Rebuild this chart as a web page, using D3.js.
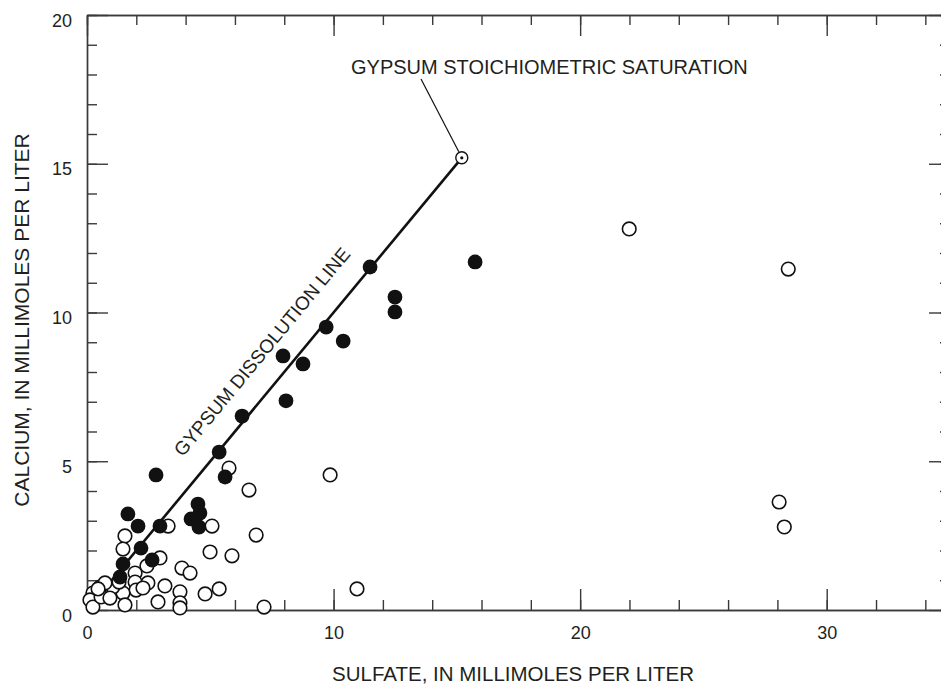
<!DOCTYPE html>
<html>
<head>
<meta charset="utf-8">
<script src="https://cdn.jsdelivr.net/npm/d3@7"></script>
<style>
  body { margin: 0; background: #fff; }
  svg { display: block; font-family: "Liberation Sans", Arial, Helvetica, sans-serif; }
  text { fill: #231f20; }
</style>
</head>
<body>
<script>
// samples plotting on / near the gypsum line (filled)
var filledSulfate = [11.48, 15.74, 12.49, 12.49, 10.39, 9.70, 8.76, 7.95, 8.07, 6.29, 5.36, 5.60,
                     2.80, 4.50, 4.58, 4.22, 4.54, 2.96, 1.66, 2.07, 2.19, 2.64, 1.46, 1.34];
var filledCalcium = [11.53, 11.70, 10.52, 10.02, 9.04, 9.51, 8.27, 8.54, 7.03, 6.52, 5.31, 4.47,
                     4.54, 3.56, 3.26, 3.06, 2.79, 2.82, 3.23, 2.82, 2.08, 1.68, 1.55, 1.11];

// other samples (open)
var openSulfate = [21.99, 28.44, 28.07, 28.28, 9.86, 5.76, 6.57, 6.86, 5.07, 3.29, 4.99, 5.88,
                   2.96, 3.85, 4.18, 3.16, 3.77, 4.79, 5.36, 2.88, 3.77, 3.77, 7.18, 10.95,
                   1.54, 1.46, 2.43, 1.95, 1.95, 1.99, 2.47, 2.27, 1.46, 0.89, 0.53, 0.24,
                   0.12, 0.24, 1.54, 0.57, 1.05, 0.93, 1.30, 0.73, 0.45];
var openCalcium = [12.81, 11.46, 3.63, 2.79, 4.54, 4.77, 4.03, 2.52, 2.82, 2.82, 1.95, 1.82,
                   1.75, 1.41, 1.24, 0.81, 0.61, 0.54, 0.71, 0.27, 0.24, 0.07, 0.10, 0.71,
                   2.49, 2.05, 1.48, 1.24, 0.94, 0.67, 0.91, 0.74, 0.57, 0.64, 0.77, 0.57,
                   0.34, 0.10, 0.17, 0.44, 0.77, 0.40, 0.94, 0.91, 0.71];

var saturation = [15.2, 15.2];   // gypsum stoichiometric saturation point

var xTicks = [0, 10, 20, 30];
var yTicks = [0, 5, 10, 15, 20];

var width = 941, height = 689;
var svg = d3.select("body").append("svg")
            .attr("width", width)
            .attr("height", height);

var x = d3.scaleLinear().domain([0, 35]).range([87, 950]);
var y = d3.scaleLinear().domain([0, 20]).range([610, 15]);

var axisColor = "#3a3a3a";

function styleAxis(g) {
  g.select(".domain").attr("stroke", axisColor).attr("stroke-width", 1.4);
  g.selectAll(".tick line").attr("stroke", axisColor).attr("stroke-width", 1.4);
  g.selectAll(".tick text").attr("fill", "#231f20")
   .style("font-size", "18px").style("font-family", "Liberation Sans, Arial, sans-serif");
}

var xMinor = d3.range(0, 35, 2), yMinor = d3.range(0, 21, 1);

// minor ticks, all four sides
svg.append("g").attr("transform", "translate(0," + y(0) + ")")
   .call(d3.axisBottom(x).tickValues(xMinor).tickSizeInner(-10).tickSizeOuter(0).tickFormat(""))
   .call(styleAxis);
svg.append("g").attr("transform", "translate(0," + y(20) + ")")
   .call(d3.axisTop(x).tickValues(xMinor).tickSizeInner(-10).tickSizeOuter(0).tickFormat(""))
   .call(styleAxis);
svg.append("g").attr("transform", "translate(" + x(0) + ",0)")
   .call(d3.axisLeft(y).tickValues(yMinor).tickSizeInner(-10).tickSizeOuter(0).tickFormat(""))
   .call(styleAxis);
svg.append("g").attr("transform", "translate(" + x(35) + ",0)")
   .call(d3.axisRight(y).tickValues(yMinor).tickSizeInner(-10).tickSizeOuter(0).tickFormat(""))
   .call(styleAxis);

// major ticks with labels
svg.append("g").attr("transform", "translate(0," + y(0) + ")")
   .call(d3.axisBottom(x).tickValues(xTicks).tickSizeInner(-21).tickSizeOuter(0).tickPadding(16).tickFormat(d3.format("d")))
   .call(styleAxis);
svg.append("g").attr("transform", "translate(0," + y(20) + ")")
   .call(d3.axisTop(x).tickValues(xTicks).tickSizeInner(-21).tickSizeOuter(0).tickFormat(""))
   .call(styleAxis);
var yAx = svg.append("g").attr("transform", "translate(" + x(0) + ",0)")
   .call(d3.axisLeft(y).tickValues(yTicks).tickSizeInner(-21).tickSizeOuter(0).tickPadding(15).tickFormat(d3.format("d")))
   .call(styleAxis);
yAx.selectAll(".tick text").attr("dy", "11px");
svg.append("g").attr("transform", "translate(" + x(35) + ",0)")
   .call(d3.axisRight(y).tickValues(yTicks).tickSizeInner(-21).tickSizeOuter(0).tickFormat(""))
   .call(styleAxis);

// axis titles
svg.append("text")
   .attr("x", 513).attr("y", 681)
   .attr("text-anchor", "middle")
   .style("font-size", "20.5px")
   .text("SULFATE, IN MILLIMOLES PER LITER");

svg.append("text")
   .attr("transform", "translate(29,320) rotate(-90)")
   .attr("text-anchor", "middle")
   .style("font-size", "21px")
   .text("CALCIUM, IN MILLIMOLES PER LITER");

// gypsum dissolution line
svg.append("line")
   .attr("x1", x(0)).attr("y1", y(0))
   .attr("x2", x(saturation[0])).attr("y2", y(saturation[1]))
   .attr("stroke", "#111").attr("stroke-width", 2.6);

var ang = -Math.atan2(y(0) - y(saturation[1]), x(saturation[0]) - x(0)) * 180 / Math.PI;
svg.append("text")
   .attr("transform", "translate(267,356) rotate(" + ang + ")")
   .attr("text-anchor", "middle")
   .style("font-size", "19px")
   .text("GYPSUM DISSOLUTION LINE");

// open samples
svg.append("g").selectAll("circle")
   .data(d3.zip(openSulfate, openCalcium))
   .enter().append("circle")
   .attr("cx", function(d) { return x(d[0]); })
   .attr("cy", function(d) { return y(d[1]); })
   .attr("r", 6.8)
   .attr("fill", "#fff")
   .attr("stroke", "#111")
   .attr("stroke-width", 1.6);

// filled samples
svg.append("g").selectAll("circle")
   .data(d3.zip(filledSulfate, filledCalcium))
   .enter().append("circle")
   .attr("cx", function(d) { return x(d[0]); })
   .attr("cy", function(d) { return y(d[1]); })
   .attr("r", 7.4)
   .attr("fill", "#111");

// saturation marker + leader
var sx = x(saturation[0]), sy = y(saturation[1]);
svg.append("line")
   .attr("x1", sx - 3).attr("y1", sy - 6)
   .attr("x2", 421).attr("y2", 79)
   .attr("stroke", "#111").attr("stroke-width", 1.2);
svg.append("circle")
   .attr("cx", sx).attr("cy", sy).attr("r", 6)
   .attr("fill", "#fff").attr("stroke", "#111").attr("stroke-width", 1.4);
svg.append("circle")
   .attr("cx", sx).attr("cy", sy).attr("r", 1.6)
   .attr("fill", "#111");

svg.append("text")
   .attr("x", 351).attr("y", 74)
   .style("font-size", "20px")
   .text("GYPSUM STOICHIOMETRIC SATURATION");
</script>
</body>
</html>
